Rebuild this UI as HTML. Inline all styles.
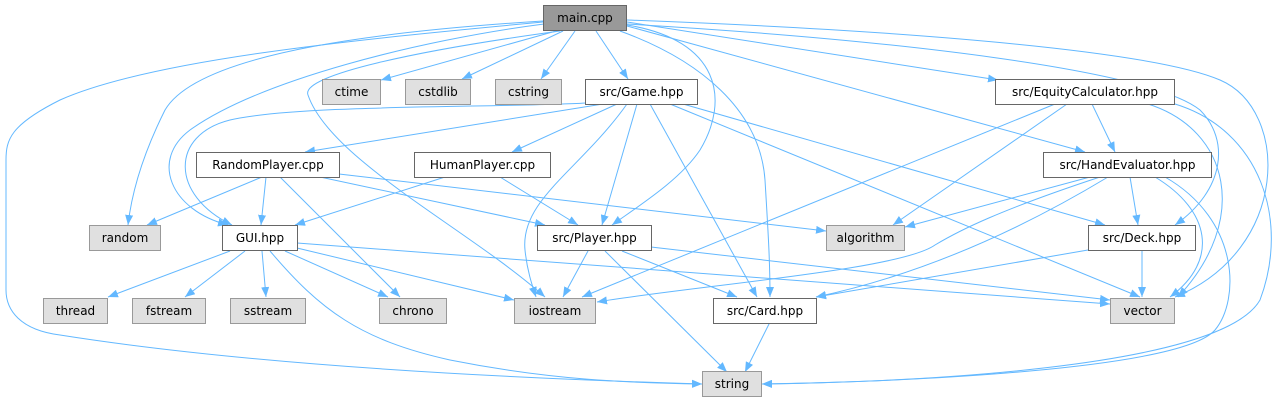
<!DOCTYPE html>
<html><head><meta charset="utf-8"><style>
html,body{margin:0;padding:0;background:#fff;}
svg{display:block;}
text{font-family:"DejaVu Sans","Liberation Sans",sans-serif;font-size:12px;fill:#000;}
.n rect{fill:#fff;stroke:#666;stroke-width:1;}
.g rect{fill:#e0e0e0;stroke:#999;stroke-width:1;}
.m rect{fill:#999;stroke:#666;stroke-width:1;}
path.e{fill:none;stroke:#63b8ff;stroke-width:1;}
</style></head><body>
<svg width="1281" height="403" viewBox="0 0 1281 403" xmlns="http://www.w3.org/2000/svg">
<defs><marker id="a" markerWidth="10" markerHeight="8" refX="10" refY="4" orient="auto" markerUnits="userSpaceOnUse"><path d="M0,0 L10,4 L0,8 z" fill="#63b8ff"/></marker></defs>
<g marker-end="url(#a)">
<!-- main -->
<path class="e" d="M556,31 L381,80"/>
<path class="e" d="M563,31 L462,79"/>
<path class="e" d="M575,31 L541,79"/>
<path class="e" d="M596,31 L628,79"/>
<path class="e" d="M543,21 C400,30 200,50 165,110 C145,150 132,190 128,225"/>
<path class="e" d="M544,24 C420,40 260,80 190,130 C150,160 170,210 228,225"/>
<path class="e" d="M543,22 C350,40 150,60 60,100 C10,125 6,140 6,160 L6,290 C6,310 20,330 60,335 C250,365 500,378 702,384"/>
<path class="e" d="M560,31 C420,50 300,75 308,95 C330,160 470,230 545,297"/>
<path class="e" d="M627,25 C720,40 730,100 700,150 C680,180 640,205 612,225"/>
<path class="e" d="M620,31 C700,60 760,110 765,180 C768,230 770,260 770,297"/>
<path class="e" d="M627,22 L998,80"/>
<path class="e" d="M627,26 L1085,152"/>
<path class="e" d="M627,24 C900,40 1150,70 1200,110 C1230,140 1225,190 1175,225"/>
<path class="e" d="M627,20 C900,30 1150,50 1220,80 C1290,110 1290,250 1175,297"/>
<!-- Game -->
<path class="e" d="M603,104 L305,152"/>
<path class="e" d="M617,104 L512,152"/>
<path class="e" d="M586,103 C500,108 300,104 230,120 C170,135 170,195 232,225"/>
<path class="e" d="M637,104 L602,225"/>
<path class="e" d="M627,104 C580,170 520,200 525,250 C527,270 532,285 536,297"/>
<path class="e" d="M650,104 L757,297"/>
<path class="e" d="M670,104 L1140,297"/>
<path class="e" d="M683,104 L1105,225"/>
<!-- Equity -->
<path class="e" d="M1092,104 L1115,152"/>
<path class="e" d="M1067,104 L893,225"/>
<path class="e" d="M1055,104 L582,297"/>
<path class="e" d="M1148,104 C1230,130 1250,220 1178,297"/>
<path class="e" d="M1175,104 C1260,130 1290,220 1260,300 C1220,370 900,382 762,384"/>
<!-- HandEval -->
<path class="e" d="M1090,177 L905,227"/>
<path class="e" d="M1100,177 C1000,210 960,230 935,245 C900,270 700,285 597,302"/>
<path class="e" d="M1108,177 C1020,230 920,275 816,297"/>
<path class="e" d="M1130,177 L1138,225"/>
<path class="e" d="M1155,177 C1210,210 1220,260 1170,297"/>
<path class="e" d="M1165,177 C1240,220 1240,300 1215,330 C1180,370 900,382 762,384"/>
<!-- Deck -->
<path class="e" d="M1142,251 L1142,297"/>
<path class="e" d="M1088,250 L816,297"/>
<!-- RandomPlayer -->
<path class="e" d="M262,177 L147,225"/>
<path class="e" d="M266,177 L261,225"/>
<path class="e" d="M280,177 L400,297"/>
<path class="e" d="M320,177 L545,225"/>
<path class="e" d="M339,174 L826,231"/>
<!-- HumanPlayer -->
<path class="e" d="M445,177 L295,225"/>
<path class="e" d="M500,177 L578,225"/>
<!-- GUI -->
<path class="e" d="M230,251 L108,297"/>
<path class="e" d="M245,251 L185,297"/>
<path class="e" d="M262,251 L266,297"/>
<path class="e" d="M285,251 L388,297"/>
<path class="e" d="M297,248 L514,300"/>
<path class="e" d="M297,243 L1110,304"/>
<path class="e" d="M270,251 C320,310 360,340 450,360 C550,380 630,383 702,384"/>
<!-- Player -->
<path class="e" d="M588,251 L563,297"/>
<path class="e" d="M622,251 L737,297"/>
<path class="e" d="M605,251 L727,372"/>
<path class="e" d="M651,247 L1110,300"/>
<!-- Card -->
<path class="e" d="M770,322 L745,372"/>
</g>
<g class="m"><rect x="543.5" y="5.5" width="83" height="25"/><text x="585" y="22" text-anchor="middle">main.cpp</text></g>
<g class="g"><rect x="322.5" y="79.5" width="58" height="25"/><text x="351.5" y="96" text-anchor="middle">ctime</text></g>
<g class="g"><rect x="405.5" y="79.5" width="65" height="25"/><text x="438" y="96" text-anchor="middle">cstdlib</text></g>
<g class="g"><rect x="495.5" y="79.5" width="66" height="25"/><text x="528.5" y="96" text-anchor="middle">cstring</text></g>
<g class="n"><rect x="585.5" y="79.5" width="112" height="25"/><text x="641.5" y="96" text-anchor="middle">src/Game.hpp</text></g>
<g class="n"><rect x="995.5" y="79.5" width="179" height="25"/><text x="1085" y="96" text-anchor="middle">src/EquityCalculator.hpp</text></g>
<g class="n"><rect x="196.5" y="152.5" width="143" height="25"/><text x="268" y="169" text-anchor="middle">RandomPlayer.cpp</text></g>
<g class="n"><rect x="414.5" y="152.5" width="136" height="25"/><text x="482.5" y="169" text-anchor="middle">HumanPlayer.cpp</text></g>
<g class="n"><rect x="1043.5" y="152.5" width="168" height="25"/><text x="1127.5" y="169" text-anchor="middle">src/HandEvaluator.hpp</text></g>
<g class="g"><rect x="89.5" y="225.5" width="71" height="25"/><text x="125" y="242" text-anchor="middle">random</text></g>
<g class="n"><rect x="222.5" y="225.5" width="75" height="25"/><text x="260" y="242" text-anchor="middle">GUI.hpp</text></g>
<g class="n"><rect x="537.5" y="225.5" width="114" height="25"/><text x="594.5" y="242" text-anchor="middle">src/Player.hpp</text></g>
<g class="g"><rect x="826.5" y="225.5" width="78" height="25"/><text x="865.5" y="242" text-anchor="middle">algorithm</text></g>
<g class="n"><rect x="1088.5" y="225.5" width="107" height="25"/><text x="1142" y="242" text-anchor="middle">src/Deck.hpp</text></g>
<g class="g"><rect x="43.5" y="298.5" width="64" height="25"/><text x="75.5" y="315" text-anchor="middle">thread</text></g>
<g class="g"><rect x="132.5" y="298.5" width="73" height="25"/><text x="169" y="315" text-anchor="middle">fstream</text></g>
<g class="g"><rect x="230.5" y="298.5" width="75" height="25"/><text x="268" y="315" text-anchor="middle">sstream</text></g>
<g class="g"><rect x="379.5" y="298.5" width="67" height="25"/><text x="413" y="315" text-anchor="middle">chrono</text></g>
<g class="g"><rect x="514.5" y="298.5" width="81" height="25"/><text x="555" y="315" text-anchor="middle">iostream</text></g>
<g class="n"><rect x="713.5" y="298.5" width="103" height="25"/><text x="765" y="315" text-anchor="middle">src/Card.hpp</text></g>
<g class="g"><rect x="1110.5" y="298.5" width="64" height="25"/><text x="1142.5" y="315" text-anchor="middle">vector</text></g>
<g class="g"><rect x="702.5" y="371.5" width="59" height="25"/><text x="732" y="388" text-anchor="middle">string</text></g>
</svg>
</body></html>
